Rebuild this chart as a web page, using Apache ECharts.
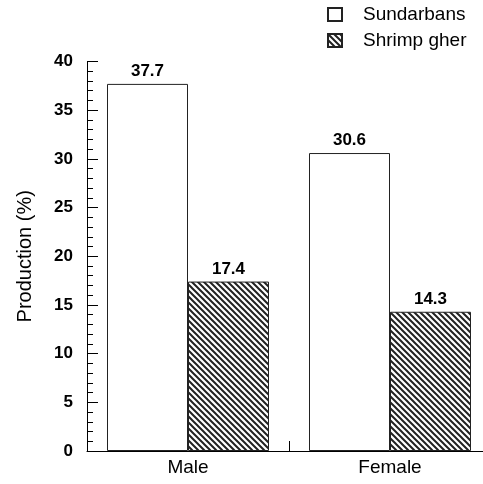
<!DOCTYPE html>
<html>
<head>
<meta charset="utf-8">
<script src="https://cdn.jsdelivr.net/npm/echarts@6/dist/echarts.min.js"></script>
<style>
  html, body { margin: 0; padding: 0; background: #fff; overflow: hidden; }
  #chart { width: 491px; height: 484px; }
</style>
</head>
<body>
<div id="chart"></div>
<script>
const categories = ["Male", "Female"];
const sundarbans = [37.7, 30.6];
const shrimpGher = [17.4, 14.3];
const yTicks = [0, 5, 10, 15, 20, 25, 30, 35, 40];

// diagonal hatch
const makeHatch = () => {
  const c = document.createElement("canvas");
  const s = 6;
  c.width = s;
  c.height = s;
  const ctx = c.getContext("2d");
  ctx.fillStyle = "#fff";
  ctx.fillRect(0, 0, s, s);
  ctx.strokeStyle = "#222";
  ctx.lineWidth = 2;
  ctx.beginPath();
  ctx.moveTo(-s, -s);
  ctx.lineTo(2 * s, 2 * s);
  ctx.moveTo(0, -s);
  ctx.lineTo(2 * s, s);
  ctx.moveTo(-s, 0);
  ctx.lineTo(s, 2 * s);
  ctx.stroke();
  return c;
};
const hatch = { image: makeHatch(), repeat: "repeat" };

const chart = echarts.init(document.getElementById("chart"));

const font = "Liberation Sans, Arial, sans-serif";
const labelStyle = {
  show: true,
  position: "top",
  distance: 4,
  fontFamily: font,
  fontWeight: "bold",
  fontSize: 17,
  color: "#000",
};

chart.setOption({
  animation: false,
  grid: { left: 87, right: 0, top: 61.5, bottom: 33 },
  legend: {
    orient: "vertical",
    left: 322,
    top: 0,
    itemWidth: 14,
    itemHeight: 13,
    itemGap: 7,
    icon: "rect",
    textStyle: {
      fontFamily: font,
      fontSize: 19,
      color: "#000",
      padding: [0, 0, 0, 16],
    },
  },
  xAxis: {
    type: "category",
    data: categories,
    axisLine: { lineStyle: { color: "#000", width: 1 } },
    axisTick: { show: true, inside: true, length: 10, lineStyle: { color: "#000" } },
    axisLabel: {
      margin: 7,
      fontFamily: font,
      fontSize: 19,
      color: "#000",
    },
  },
  yAxis: {
    type: "value",
    min: 0,
    max: yTicks[yTicks.length - 1],
    interval: 5,
    name: "Production (%)",
    nameLocation: "middle",
    nameGap: 52,
    nameTextStyle: {
      fontFamily: font,
      fontSize: 20,
      color: "#000",
    },
    axisLine: { show: true, lineStyle: { color: "#000", width: 1 } },
    axisTick: { show: true, inside: true, length: 11, lineStyle: { color: "#000" } },
    minorTick: { show: true, splitNumber: 5, length: 6, lineStyle: { color: "#000" } },
    splitLine: { show: false },
    axisLabel: {
      margin: 14,
      fontFamily: font,
      fontWeight: "bold",
      fontSize: 17,
      color: "#000",
    },
  },
  series: [
    {
      name: "Sundarbans",
      type: "bar",
      data: sundarbans,
      barWidth: 81,
      barGap: "0%",
      itemStyle: { color: "#fff", borderColor: "#222", borderWidth: 1 },
      label: labelStyle,
    },
    {
      name: "Shrimp gher",
      type: "bar",
      data: shrimpGher,
      barWidth: 81,
      barGap: "0%",
      itemStyle: { color: hatch, borderColor: "#222", borderWidth: 1 },
      label: labelStyle,
    },
  ],
});

window.addEventListener("resize", () => {
  chart.resize();
});
</script>
</body>
</html>
